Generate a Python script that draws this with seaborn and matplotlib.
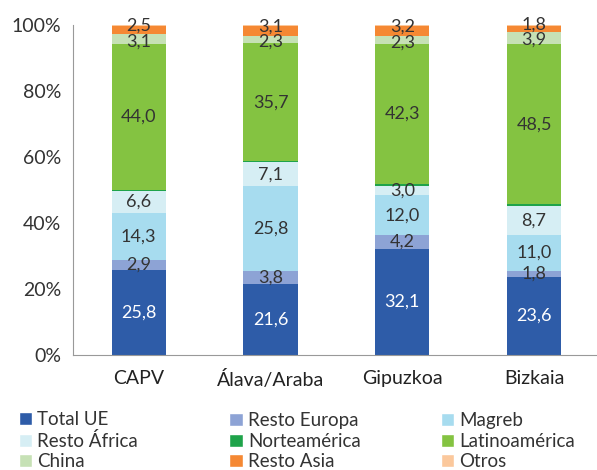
import numpy as np
import pandas as pd
import matplotlib
matplotlib.use('Agg')
import matplotlib.pyplot as plt
import seaborn as sns
from matplotlib.patches import Patch

# Data (% por procedencia)
regions = ['CAPV', 'Álava/Araba', 'Gipuzkoa', 'Bizkaia']
series = ['Total UE', 'Resto Europa', 'Magreb', 'Resto África', 'Norteamérica',
          'Latinoamérica', 'China', 'Resto Asia', 'Otros']
total_ue = [25.8, 21.6, 32.1, 23.6]
resto_europa = [2.9, 3.8, 4.2, 1.8]
magreb = [14.3, 25.8, 12.0, 11.0]
resto_africa = [6.6, 7.1, 3.0, 8.7]
norteamerica = [0.5, 0.4, 0.6, 0.5]
latinoamerica = [44.0, 35.7, 42.3, 48.5]
china = [3.1, 2.3, 2.3, 3.9]
resto_asia = [2.5, 3.1, 3.2, 1.8]
otros = [0.3, 0.2, 0.3, 0.2]
labelled = ['Total UE', 'Resto Europa', 'Magreb', 'Resto África',
            'Latinoamérica', 'China', 'Resto Asia']

colors = ['#2E5CA8', '#8DA3D5', '#A7DCEF', '#D6EEF4', '#1FA34A',
          '#84C341', '#C6E1B5', '#F58833', '#FBC89C']

df = pd.DataFrame([total_ue, resto_europa, magreb, resto_africa, norteamerica,
                   latinoamerica, china, resto_asia, otros],
                  index=series, columns=regions)
cum = df.cumsum()

sns.set_style('white')
plt.rcParams['font.family'] = ['Lato', 'DejaVu Sans']

fig, ax = plt.subplots(figsize=(5.97, 4.70), dpi=100)

# draw from the top of the stack down so each layer covers the one above
for i in range(len(series) - 1, -1, -1):
    s = series[i]
    sns.barplot(x=regions, y=cum.loc[s].values, color=colors[i], width=0.41,
                saturation=1, ax=ax, linewidth=0)

# segment labels (the two thin top ones are pushed apart a little)
nudge = {'Resto Asia': 3, 'China': -1.5}
for s in labelled:
    for j, r in enumerate(regions):
        v = df.loc[s, r]
        mid = cum.loc[s, r] - v / 2
        ax.annotate(f'{v:.1f}'.replace('.', ','), (j, mid),
                    xytext=(0, nudge.get(s, 0)), textcoords='offset points',
                    ha='center', va='center', fontsize=13,
                    color='white' if s == 'Total UE' else '#333333')

ax.set_ylim(0, 100)
ax.set_xlim(-0.5, 3.5)
ax.set_yticks(range(0, 101, 20))
ax.set_yticklabels([f'{t}%' for t in range(0, 101, 20)])
ax.tick_params(axis='y', length=5, color='#999999', labelsize=14, labelcolor='#333333')
ax.tick_params(axis='x', length=0, labelsize=14, labelcolor='#222222', pad=11)
for sp in ['top', 'right']:
    ax.spines[sp].set_visible(False)
for sp in ['left', 'bottom']:
    ax.spines[sp].set_color('#999999')
    ax.spines[sp].set_linewidth(0.8)

handles = [Patch(facecolor=c, label=s) for s, c in zip(series, colors)]
# one legend per column, read row by row
col_x = [0.025, 0.378, 0.732]
for k in range(3):
    idx = [k, k + 3, k + 6]
    leg = fig.legend([handles[m] for m in idx], [series[m] for m in idx],
                     loc='lower left', bbox_to_anchor=(col_x[k], -0.008),
                     frameon=False, fontsize=13.5, handlelength=0.7,
                     handleheight=0.7, handletextpad=0.3, labelspacing=0.18,
                     borderaxespad=0, borderpad=0.2)
    for t in leg.get_texts():
        t.set_color('#333333')

plt.subplots_adjust(left=0.122, right=1.005, top=0.947, bottom=0.245)
plt.savefig('out.png', dpi=100)
